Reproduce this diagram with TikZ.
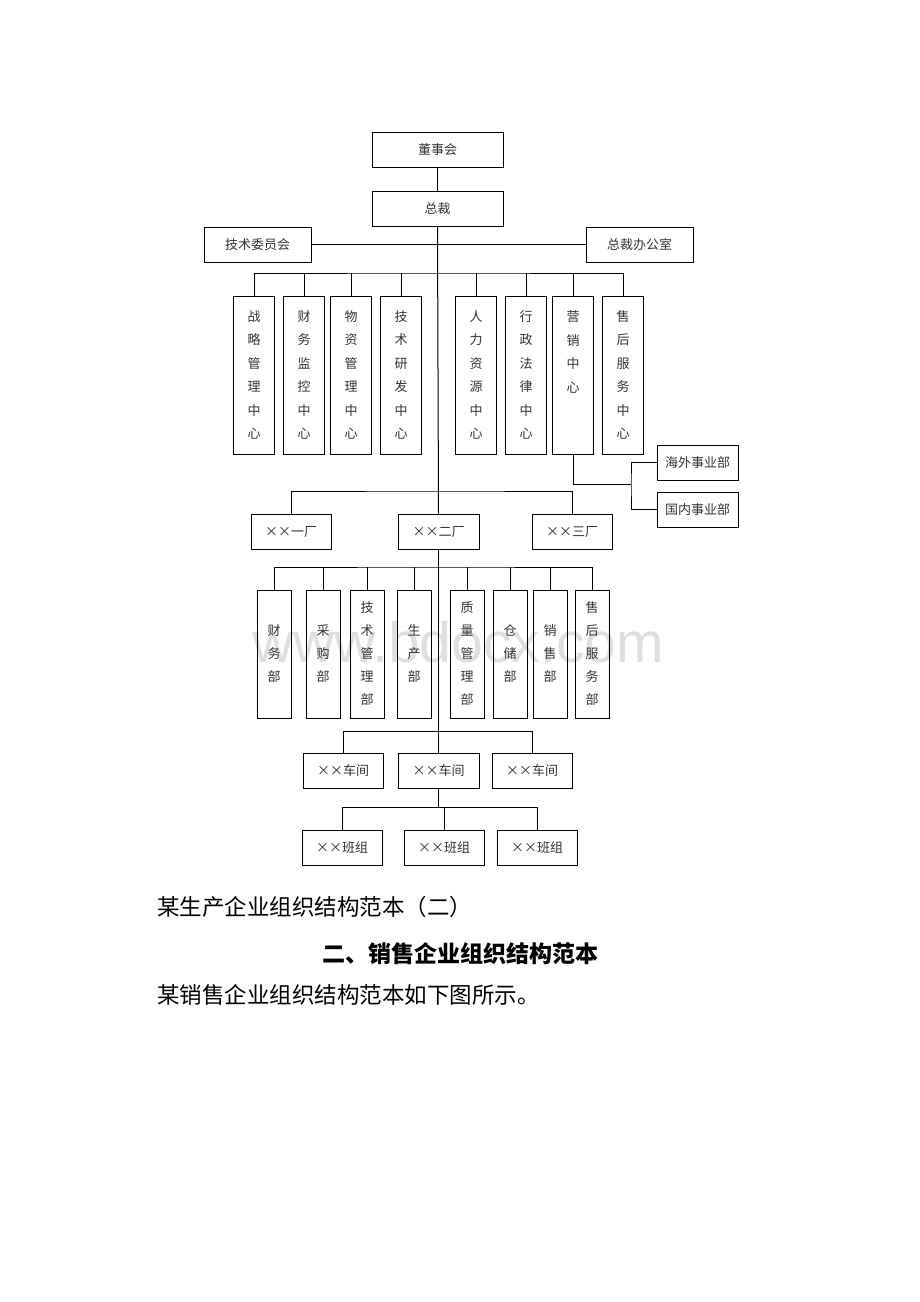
\documentclass[tikz,border=0pt]{standalone}
\usepackage{fontspec}
\newfontfamily\cjk{Noto Sans CJK SC}
\newfontfamily\markfont{Liberation Sans}

\tikzset{
  unitbox/.style={draw, line width=1pt, minimum width=#1, minimum height=35pt, inner sep=0pt,
    font=\cjk\fontsize{13}{16}\selectfont, text=black!80},
  unitbox/.default=80pt,
  colbox/.style={draw, line width=1pt, minimum width=41pt, minimum height=158pt, inner sep=0pt,
    align=center, font=\cjk\fontsize{13}{23.5}\selectfont, text=black!80},
  deptbox/.style={colbox, minimum width=34pt, minimum height=128pt,
    font=\cjk\fontsize{13}{23}\selectfont},
  wire/.style={line width=1pt},
  bodytext/.style={inner sep=0pt, font=\cjk\fontsize{22.5}{27}\selectfont},
}

\begin{document}
\begin{tikzpicture}[x=1pt, y=-1pt]
        \useasboundingbox (0,0) rectangle (920,1302);

        % Watermark
        \node[font=\markfont\fontsize{57}{60}\selectfont, text=gray!25, anchor=base, inner sep=0pt] (mark) at (458,662) {www.bdocx.com};

        % Top
        \draw (437.5,149.5) node[unitbox=131pt] (board) {董事会};
        \draw (437.5,208.5) node[unitbox=131pt] (ceo) {总裁};
        \draw (257.5,244.5) node[unitbox=107pt] (techcom) {技术委员会};
        \draw (639.5,244.5) node[unitbox=107pt] (office) {总裁办公室};

        % Centres
        \draw (254,375) node[colbox] (c1) {战\\略\\管\\理\\中\\心};
        \draw (304,375) node[colbox] (c2) {财\\务\\监\\控\\中\\心};
        \draw (351,375) node[colbox] (c3) {物\\资\\管\\理\\中\\心};
        \draw (401,375) node[colbox] (c4) {技\\术\\研\\发\\中\\心};
        \draw (476,375) node[colbox] (c5) {人\\力\\资\\源\\中\\心};
        \draw (526,375) node[colbox] (c6) {行\\政\\法\\律\\中\\心};
        \draw (573,375) node[colbox] (c7) {营\\销\\中\\心\\{}\\{}};
        \draw (623,375) node[colbox] (c8) {售\\后\\服\\务\\中\\心};
        \draw (697.5,462.5) node[unitbox=81pt] (abroad) {海外事业部};
        \draw (697.5,509.5) node[unitbox=81pt] (domestic) {国内事业部};

        % Factories
        \draw (291,531.5) node[unitbox] (f1) {××一厂};
        \draw (438.5,531.5) node[unitbox=81pt] (f2) {××二厂};
        \draw (572,531.5) node[unitbox] (f3) {××三厂};

        % Departments
        \draw (274,654) node[deptbox] (d1) {财\\务\\部};
        \draw (323,654) node[deptbox] (d2) {采\\购\\部};
        \draw (367,654) node[deptbox] (d3) {技\\术\\管\\理\\部};
        \draw (414,654) node[deptbox] (d4) {生\\产\\部};
        \draw (467,654) node[deptbox] (d5) {质\\量\\管\\理\\部};
        \draw (510,654) node[deptbox] (d6) {仓\\储\\部};
        \draw (550,654) node[deptbox] (d7) {销\\售\\部};
        \draw (592,654) node[deptbox] (d8) {售\\后\\服\\务\\部};

        % Workshops and teams
        \draw (343,771) node[unitbox] (s1) {××车间};
        \draw (438.5,771) node[unitbox=81pt] (s2) {××车间};
        \draw (532,771) node[unitbox] (s3) {××车间};
        \draw (342,847.5) node[unitbox] (t1) {××班组};
        \draw (444,847.5) node[unitbox] (t2) {××班组};
        \draw (537,847.5) node[unitbox] (t3) {××班组};

        % Bus lines
        \coordinate (bus1) at (438,273);
        \coordinate (bus2) at (438,491);
        \coordinate (bus3) at (438,567);
        \coordinate (bus4) at (438,731);
        \coordinate (bus5) at (438,807);
        \coordinate (split) at (631,484);

        % Connections
        \draw[wire] (board) -- (ceo);
        \draw[wire] (techcom) -- (office);
        \draw[wire] (ceo.south) -- (f2.north);
        \draw[wire] (c1.north) |- (bus1) -| (c8.north);
        \foreach \n in {c2,c3,c4,c5,c6,c7}
            \draw[wire] (\n.north) -- (\n.north |- bus1);
        \draw[wire] (c7.south) |- (split);
        \draw[wire] (abroad.west) -| (split) |- (domestic.west);
        \draw[wire] (f1.north) |- (bus2) -| (f3.north);

        \draw[wire] (f2.south) -- (s2.north);
        \draw[wire] (d1.north) |- (bus3) -| (d8.north);
        \foreach \n in {d2,d3,d4,d5,d6,d7}
            \draw[wire] (\n.north) -- (\n.north |- bus3);
        \draw[wire] (s1.north) |- (bus4) -| (s3.north);

        \draw[wire] (s2.south) -- (s2.south |- bus5);
        \draw[wire] (t1.north) |- (bus5) -| (t3.north);
        \draw[wire] (t2.north) -- (t2.north |- bus5);

        % Text below
        \node[bodytext, anchor=west] (caption) at (157,907) {某生产企业组织结构范本（二）};
        \node[bodytext, font=\cjk\bfseries\fontsize{23}{27}\selectfont] (heading) at (460,954) {二、销售企业组织结构范本};
        \node[bodytext, anchor=west] (intro) at (157,995) {某销售企业组织结构范本如下图所示。};
    \end{tikzpicture}
\end{document}
